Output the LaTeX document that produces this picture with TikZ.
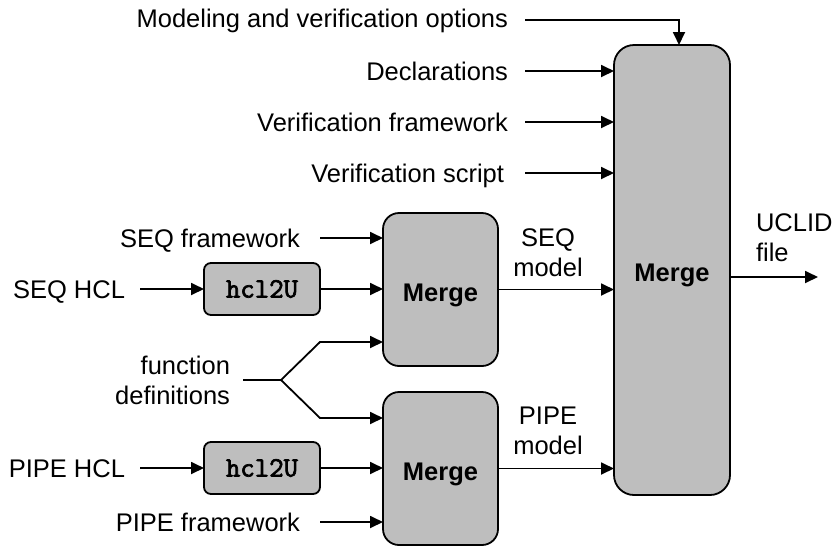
\documentclass[tikz,border=0pt]{standalone}
\usepackage{fontspec}
\setmainfont{Liberation Sans}
\newfontfamily\codefont[FakeBold=2.5]{Latin Modern Mono}
\usetikzlibrary{arrows.meta,calc}
\definecolor{boxgray}{RGB}{190,190,190}
\begin{document}
\begin{tikzpicture}[x=1pt,y=-1pt,
  every node/.style={inner sep=0pt,outer sep=0pt},
  lbl/.style={font=\fontsize{25.5}{30}\selectfont},
  twolines/.style={lbl,align=center},
  mergebox/.style={draw,line width=1.8pt,fill=boxgray,rounded corners=16pt,
    minimum width=115pt,minimum height=153pt,text height=23pt,text depth=0pt,
    font=\fontsize{25.5}{30}\selectfont\bfseries},
  bigbox/.style={mergebox,rounded corners=20pt,minimum width=116pt,minimum height=450pt},
  toolbox/.style={draw,line width=1.8pt,fill=boxgray,rounded corners=7pt,
    minimum width=116pt,minimum height=52pt,font=\fontsize{28}{30}\selectfont\codefont},
  arr/.style={line width=1.8pt,-{Triangle[length=13pt,width=12pt]}},
  ln/.style={line width=1.8pt}]
\useasboundingbox (0,0) rectangle (835,547);

% processing blocks
\node[bigbox] (M) at (672,270) {Merge};
\node[mergebox] (S) at (440.5,289.5) {Merge};
\node[mergebox] (P) at (440.5,468.5) {Merge};
\node[toolbox] (h1) at (262,289) {hcl2U};
\node[toolbox] (h2) at (262,468) {hcl2U};

% input labels
\node[lbl,anchor=base east] (tOpt) at (508,27) {Modeling and verification options};
\node[lbl,anchor=base east] (tDec) at (508,80) {Declarations};
\node[lbl,anchor=base east] (tVfw) at (508,131) {Verification framework};
\node[lbl,anchor=base east] (tVsc) at (504,182) {Verification script};
\node[lbl,anchor=base east] (tSfw) at (300,247) {SEQ framework};
\node[lbl,anchor=base east] (tShcl) at (125,298) {SEQ HCL};
\node[lbl,align=right,anchor=east] (tFun) at (230,380) {function\\definitions};
\node[lbl,anchor=base east] (tPhcl) at (125,477) {PIPE HCL};
\node[lbl,anchor=base east] (tPfw) at (300,531) {PIPE framework};
\node[twolines] (tSm) at (548,253) {SEQ\\model};
\node[twolines] (tPm) at (548,431) {PIPE\\model};
\node[lbl,align=left,anchor=west] (tOut) at (756,238) {UCLID\\file};

% connector end points
\coordinate (cOpt) at (525,20);
\coordinate (cDec) at (525,71);
\coordinate (cVfw) at (525,122);
\coordinate (cVsc) at (525,173);
\coordinate (cSfw) at (320,238);
\coordinate (cShcl) at (140,289);
\coordinate (cFun) at (243,380);
\coordinate (cFork) at (281,380);
\coordinate (cFunU) at (320,342);
\coordinate (cFunL) at (320,418);
\coordinate (cPhcl) at (140,468);
\coordinate (cPfw) at (320,522);
\coordinate (cOut) at (818,277);

% connectors into the final merge
\draw[arr] (cOpt) -| ([xshift=7pt]M.north);
\draw[arr] (cDec) -- (cDec -| M.west);
\draw[arr] (cVfw) -- (cVfw -| M.west);
\draw[arr] (cVsc) -- (cVsc -| M.west);
\draw[arr] (S.east) -- (S.east -| M.west);
\draw[arr] (P.east) -- (P.east -| M.west);
\draw[arr] (M.east |- cOut) -- (cOut);

% SEQ path
\draw[arr] (cSfw) -- (cSfw -| S.west);
\draw[arr] (cShcl) -- (h1.west);
\draw[arr] (h1.east) -- (h1.east -| S.west);

% shared function definitions
\draw[ln] (cFun) -- (cFork);
\draw[arr] (cFork) -- (cFunU) -- (cFunU -| S.west);
\draw[arr] (cFork) -- (cFunL) -- (cFunL -| P.west);

% PIPE path
\draw[arr] (cPhcl) -- (h2.west);
\draw[arr] (h2.east) -- (h2.east -| P.west);
\draw[arr] (cPfw) -- (cPfw -| P.west);
\end{tikzpicture}
\end{document}
